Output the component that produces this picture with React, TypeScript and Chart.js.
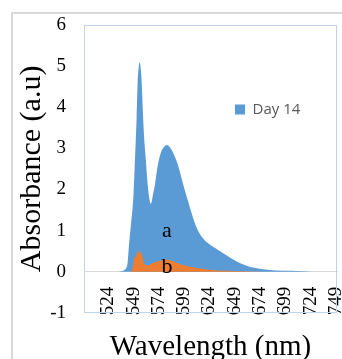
import React, { useEffect, useRef } from "react";
import { Chart, registerables } from "chart.js";

Chart.register(...registerables);

// Day 14 spectrum (series "a")
const wavelengthsA = [
  500, 520, 530, 534, 537, 540, 542, 543, 544, 545,
  546, 547, 548, 549, 550, 551, 552, 553, 554, 555,
  556, 557, 558, 559, 560, 561, 562, 563, 564, 565,
  566, 567, 568, 570, 573, 576, 579, 582, 585, 588,
  591, 594, 597, 600, 603, 606, 609, 612, 615, 618,
  621, 625, 630, 635, 640, 645, 650, 655, 660, 667,
  677, 690, 705, 716, 725, 750,
];
const day14Values = [
  0, 0, 0, 0, 0.01, 0.04, 0.1, 0.2, 0.5, 0.8,
  1.05, 1.3, 1.55, 1.9, 2.5, 3.1, 3.75, 4.6, 4.95, 5.1,
  4.95, 4.6, 4.0, 3.45, 3.05, 2.75, 2.4, 2.1, 1.88, 1.72,
  1.65, 1.72, 1.85, 2.1, 2.6, 2.9, 3.03, 3.08, 3.02, 2.9,
  2.72, 2.5, 2.22, 1.95, 1.7, 1.45, 1.22, 1.03, 0.9, 0.8,
  0.72, 0.65, 0.57, 0.49, 0.41, 0.33, 0.26, 0.2, 0.15, 0.1,
  0.06, 0.03, 0.02, 0.01, 0, 0,
];

// Series "b"
const wavelengthsB = [
  500, 546, 547, 548, 549, 550, 551, 552, 553, 554,
  555, 556, 557, 558, 559, 560, 562, 564, 566, 570,
  575, 580, 583, 587, 592, 597, 602, 608, 615, 625,
  640, 660, 680, 750,
];
const seriesBValues = [
  0, 0, 0.02, 0.1, 0.25, 0.35, 0.37, 0.42, 0.47, 0.49,
  0.49, 0.47, 0.42, 0.35, 0.22, 0.18, 0.15, 0.16, 0.18, 0.23,
  0.26, 0.29, 0.29, 0.26, 0.21, 0.17, 0.14, 0.11, 0.08, 0.05,
  0.02, 0.01, 0, 0,
];

const xTickValues = [524, 549, 574, 599, 624, 649, 674, 699, 724, 749];
const xMin = 500;
const xMax = 750;
const yMin = -1;
const yMax = 6;

const annotationText = ["a", "b"];
const annotationX = [582, 582];
const annotationY = [0.84, -0.02];

const SERIF = '"Liberation Serif", "Times New Roman", serif';

export default function App() {
  const ref = useRef<HTMLCanvasElement>(null);

  useEffect(() => {
    if (!ref.current) return;

    const plotBorder = {
      id: "plotBorder",
      beforeDatasetsDraw(chart: any) {
        const { left, top, right, bottom } = chart.chartArea;
        const ctx = chart.ctx;
        ctx.save();
        ctx.strokeStyle = "#bcd5ed";
        ctx.lineWidth = 1;
        const l = Math.round(left) + 0.5;
        const t = Math.round(top) + 0.5;
        ctx.strokeRect(l, t, Math.round(right) - 1 - l + 0.5, Math.round(bottom) - 1 - t + 0.5);
        ctx.restore();
      },
    };

    const legendPlacer = {
      id: "legendPlacer",
      afterLayout(chart: any) {
        const lg = chart.legend;
        if (!lg) return;
        const ca = chart.chartArea;
        const w = lg.width;
        const h = lg.height;
        lg.left = ca.left + 141;
        lg.top = ca.top + 67;
        lg.right = lg.left + w;
        lg.bottom = lg.top + h;
      },
    };

    const annotations = {
      id: "annotations",
      afterDatasetsDraw(chart: any) {
        const ctx = chart.ctx;
        const xs = chart.scales.x;
        const ys = chart.scales.y;
        ctx.save();
        ctx.font = `22px ${SERIF}`;
        ctx.fillStyle = "#000";
        ctx.textAlign = "center";
        ctx.textBaseline = "alphabetic";
        annotationText.forEach((t, i) => {
          ctx.fillText(t, xs.getPixelForValue(annotationX[i]), ys.getPixelForValue(annotationY[i]));
        });
        ctx.restore();
      },
    };

    const chart = new Chart(ref.current, {
      type: "line",
      data: {
        datasets: [
          {
            label: "Day 14",
            data: wavelengthsA.map((x, i) => ({ x, y: day14Values[i] })),
            backgroundColor: "#5b9bd5",
            borderColor: "#5b9bd5",
            borderWidth: 0,
            fill: "origin",
            pointRadius: 0,
            cubicInterpolationMode: "monotone",
            order: 1,
          },
          {
            label: "b",
            data: wavelengthsB.map((x, i) => ({ x, y: seriesBValues[i] })),
            backgroundColor: "#ed7d31",
            borderColor: "#ed7d31",
            borderWidth: 0,
            fill: "origin",
            pointRadius: 0,
            cubicInterpolationMode: "monotone",
            order: 0,
          },
        ],
      },
      options: {
        animation: false,
        responsive: false,
        maintainAspectRatio: false,
        devicePixelRatio: 1,
        events: [],
        layout: { padding: { top: 25, right: 5, left: 0, bottom: 0 } },
        scales: {
          x: {
            type: "linear",
            min: xMin,
            max: xMax,
            position: { y: 0 } as any,
            afterBuildTicks: (s: any) => {
              s.ticks = xTickValues.map((v) => ({ value: v }));
            },
            afterFit: (s: any) => {
              s.paddingLeft = 0;
              s.paddingRight = 0;
            },
            ticks: {
              autoSkip: false,
              minRotation: 90,
              maxRotation: 90,
              padding: 15,
              color: "#000",
              font: { family: SERIF, size: 19 },
              callback: (v: any) => String(v),
            },
            grid: { display: false, drawTicks: false },
            border: { display: true, color: "#d9d9d9", width: 1 },
          },
          y: {
            min: yMin,
            max: yMax,
            afterFit: (s: any) => {
              s.width = 84;
              s.paddingTop = 0;
              s.paddingBottom = 0;
            },
            ticks: {
              stepSize: 1,
              color: "#000",
              padding: 18,
              font: { family: SERIF, size: 19 },
            },
            grid: { display: false, drawTicks: false },
            border: { display: false },
            title: {
              display: true,
              text: "Absorbance (a.u)",
              color: "#000",
              font: { family: SERIF, size: 30, weight: "normal" },
              padding: { top: 14, bottom: 1 },
            },
          },
        },
        plugins: {
          tooltip: { enabled: false },
          legend: {
            display: true,
            position: "chartArea",
            fullSize: false,
            align: "start",
            labels: {
              boxWidth: 10,
              boxHeight: 10,
              padding: 10,
              color: "#595959",
              font: { family: '"Open Sans"', size: 15 },
              filter: (item: any) => item.datasetIndex === 0,
            },
          },
          title: {
            display: true,
            text: "Wavelength (nm)",
            position: "bottom",
            fullSize: false,
            color: "#000",
            font: { family: SERIF, size: 29, weight: "normal", lineHeight: 0.8 },
            padding: { top: 23, bottom: 0 },
          },
        },
      } as any,
      plugins: [plotBorder, legendPlacer, annotations],
    });

    return () => chart.destroy();
  }, []);

  return (
    <div
      style={{
        position: "absolute",
        left: 0,
        top: 0,
        width: 342,
        height: 359,
        overflow: "hidden",
        background: "#fff",
      }}
    >
      <div
        style={{
          position: "absolute",
          left: 11,
          top: 12,
          width: 400,
          height: 400,
          border: "2px solid #d9d9d9",
        }}
      />
      <canvas
        ref={ref}
        width={342}
        height={359}
        style={{ position: "absolute", left: 0, top: 0 }}
      />
    </div>
  );
}
